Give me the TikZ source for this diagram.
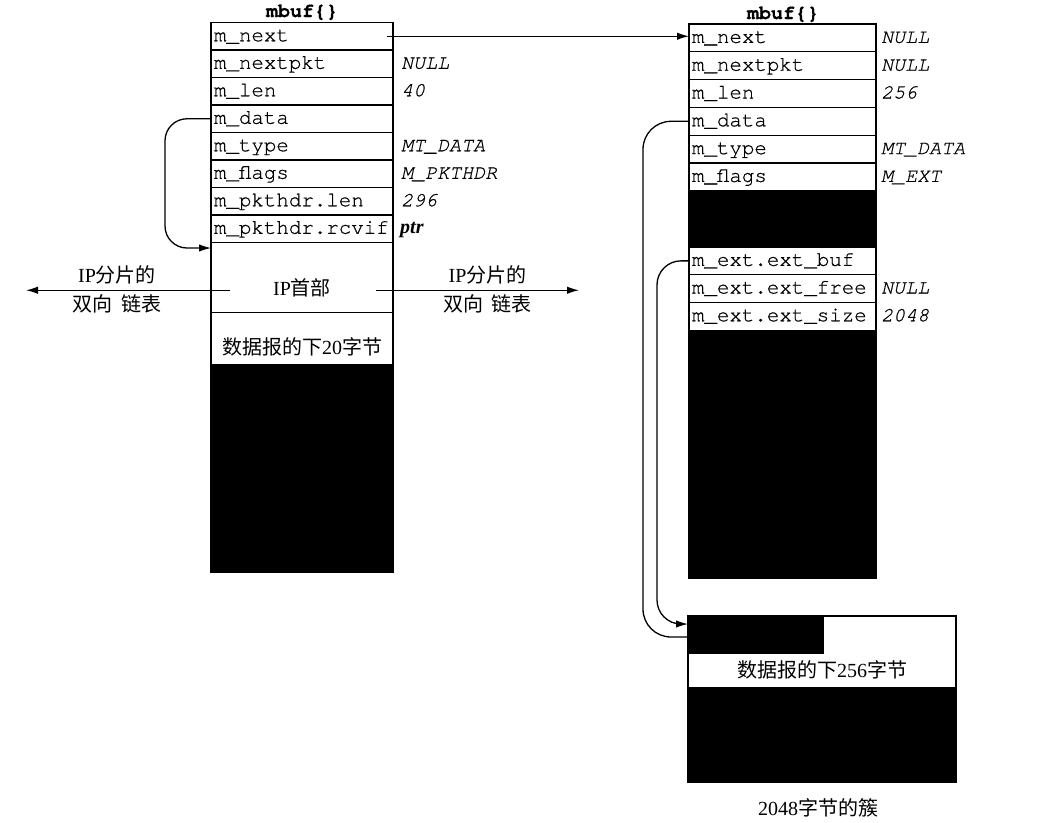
\documentclass[tikz,border=0pt]{standalone}
\usepackage{fontspec}
\setmainfont{Liberation Serif}
\setmonofont[FakeBold=0.6]{TeX Gyre Cursor}
\newfontfamily\cjk{Noto Sans CJK SC}
\usetikzlibrary{arrows.meta,calc}
\tikzset{
  fld/.style={draw, line width=1.2pt, outer sep=0pt, minimum height=27.5pt, text width=176pt,
    inner xsep=3pt, inner ysep=0pt, text height=13.5pt, text depth=3.5pt, align=left,
    anchor=north west, font=\ttfamily\fontsize{20.8}{22}\selectfont},
  rfld/.style={fld, minimum height=27.8pt, text width=181pt},
  rfldb/.style={fld, minimum height=27.7pt, text width=181pt},
  val/.style={anchor=base west, inner sep=0pt, xshift=8pt,
    font=\ttfamily\itshape\fontsize{20}{22}\selectfont},
  rval/.style={val, xshift=-3pt},
  sect/.style={draw, line width=1.2pt, outer sep=0pt, anchor=north west, inner sep=0pt},
  blk/.style={sect, fill=black},
  arr/.style={line width=1.3pt, -{Latex[length=12pt,width=7.5pt]}},
  lnk/.style={line width=1.3pt},
  zh/.style={inner sep=0pt, font=\fontsize{20}{24}\selectfont},
  ttl/.style={anchor=base, inner sep=0pt, font=\ttfamily\bfseries\fontsize{20}{22}\selectfont},
}
\begin{document}
\begin{tikzpicture}[x=1pt,y=-1pt]
\useasboundingbox (0,0) rectangle (1048,822);

% ---------- left mbuf ----------
\node[ttl] (ltitle) at (302,17) {mbuf\{\}};
\node[fld] (l1) at (211,22.5) {m\_next};
\node[fld] (l2) at (l1.south west) {m\_nextpkt};
\node[fld] (l3) at (l2.south west) {m\_len};
\node[fld] (l4) at (l3.south west) {m\_data};
\node[fld] (l5) at (l4.south west) {m\_type};
\node[fld] (l6) at (l5.south west) {m\_flags};
\node[fld] (l7) at (l6.south west) {m\_pkthdr.len};
\node[fld] (l8) at (l7.south west) {m\_pkthdr.rcvif};
\node[sect, minimum width=182pt, minimum height=70pt] (lip) at (l8.south west) {};
\node[sect, minimum width=182pt, minimum height=52pt] (ldat) at (lip.south west) {};
\node[blk, minimum width=182pt, minimum height=207.5pt] (lblk) at (ldat.south west) {};
\node[zh] (iptxt) at (302,288) {IP{\cjk 首部}};
\node[zh] (dattxt) at (302,347) {{\cjk 数据报的下}20{\cjk 字节}};

\node[val] (v2) at (l2.base east) {NULL};
\node[val] (v3) at (l3.base east) {40};
\node[val] (v5) at (l5.base east) {MT\_DATA};
\node[val] (v6) at (l6.base east) {M\_PKTHDR};
\node[val] (v7) at (l7.base east) {296};
\node[val, xshift=-1pt, font=\rmfamily\bfseries\itshape\fontsize{20}{22}\selectfont] (v8) at (l8.base east) {ptr};

% ---------- right mbuf ----------
\node[ttl] (rtitle) at (783,19) {mbuf\{\}};
\node[rfld] (r1) at (689,24) {m\_next};
\node[rfld] (r2) at (r1.south west) {m\_nextpkt};
\node[rfld] (r3) at (r2.south west) {m\_len};
\node[rfld] (r4) at (r3.south west) {m\_data};
\node[rfld] (r5) at (r4.south west) {m\_type};
\node[rfld] (r6) at (r5.south west) {m\_flags};
\node[blk, minimum width=187pt, minimum height=56.2pt] (rblk1) at (r6.south west) {};
\node[rfldb] (r7) at (rblk1.south west) {m\_ext.ext\_buf};
\node[rfldb] (r8) at (r7.south west) {m\_ext.ext\_free};
\node[rfldb] (r9) at (r8.south west) {m\_ext.ext\_size};
\node[blk, minimum width=187pt, minimum height=248pt] (rblk2) at (r9.south west) {};

\node[rval] (w1) at (r1.base east) {NULL};
\node[rval] (w2) at (r2.base east) {NULL};
\node[rval] (w3) at (r3.base east) {256};
\node[rval] (w5) at (r5.base east) {MT\_DATA};
\node[rval] (w6) at (r6.base east) {M\_EXT};
\node[rval] (w8) at (r8.base east) {NULL};
\node[rval] (w9) at (r9.base east) {2048};

% ---------- cluster ----------
\node[sect, minimum width=268pt, minimum height=166pt] (clu) at (688,616) {};
\node[blk, minimum width=135pt, minimum height=37pt] (cb1) at (clu.north west) {};
\node[blk, anchor=south west, minimum width=268pt, minimum height=94pt] (cb2) at (clu.south west) {};
\node[zh] (clutxt) at (822,670) {{\cjk 数据报的下}256{\cjk 字节}};
\node[zh] (clucap) at (818,808) {2048{\cjk 字节的簇}};

% ---------- side labels ----------
\node[zh] (la1) at (117,275) {IP{\cjk 分片的}};
\node[zh] (la2) at (117,303.5) {{\cjk 双向\hspace{0.45em}链表}};
\node[zh] (ra1) at (487.5,275) {IP{\cjk 分片的}};
\node[zh] (ra2) at (487.5,303.5) {{\cjk 双向\hspace{0.45em}链表}};

% ---------- connectors ----------
\coordinate (lipa) at ($(lip.west)+(19,12.75)$);
\coordinate (ripa) at ($(lip.east)+(-17,12.75)$);
\coordinate (lend) at (26,290);
\coordinate (rend) at (579,290);
\draw[arr] (lipa) -- (lipa -| lend);
\draw[arr] (ripa) -- (ripa -| rend);

\draw[arr] ([xshift=-6pt]l1.east) -- (l1.east -| r1.west);

\coordinate (ltip) at ($(lip.north west)+(0,5.5)$);
\coordinate (lloop) at (165,0);
\draw[arr, rounded corners=22pt] (l4.west) -| (lloop |- ltip) -- (ltip);

\coordinate (ctip1) at ($(clu.north west)+(0,8)$);
\coordinate (ctip2) at ($(clu.north west)+(0,21)$);
\coordinate (cout) at (643,0);
\coordinate (cin) at (657,0);
\draw[lnk, rounded corners=28pt] (r4.west) -| (cout |- ctip2) -- (ctip2);
\draw[arr, rounded corners=24pt] (r7.west) -| (cin |- ctip1) -- (ctip1);
\end{tikzpicture}
\end{document}
